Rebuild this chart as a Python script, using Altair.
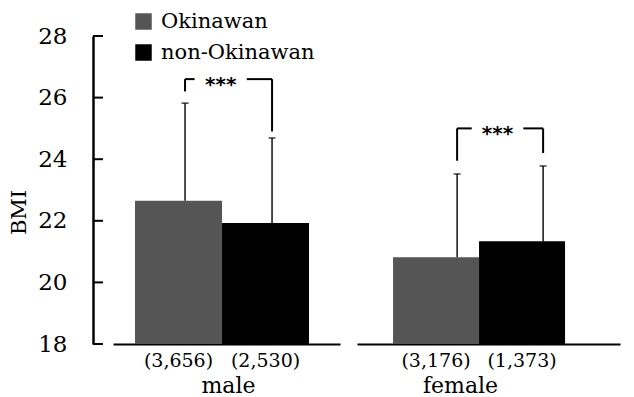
import altair as alt
import pandas as pd

# ---- data ----
groups = ["male", "female"]
series = ["Okinawan", "non-Okinawan"]
n_by_group = [[3656, 2530], [3176, 1373]]
mean_by_group = [[22.65, 21.93], [20.82, 21.34]]
upper_by_group = [[25.82, 24.69], [23.52, 23.78]]   # mean + SD (upper whisker)
sig_labels = ["***", "***"]
bracket_level = [26.6, 25.0]
bracket_left_end = [26.2, 23.95]
bracket_right_end = [24.9, 24.2]
y_ticks = [18, 20, 22, 24, 26, 28]
colors = ["#555555", "#000000"]

# ---- style ----
SERIF = "DejaVu Serif"
H = 308
widths = [227, 263]
x_domains = [[-0.753, 1.856], [-0.919, 2.139]]
err_shift = [0.075, 0.245]
star_shift = [-0.09, -0.03]
title_x = [115, 103]
STAR_GAP = 0.3

y_scale = alt.Scale(domain=[y_ticks[0], y_ticks[-1]], nice=False, zero=False)


def panel(gi):
    xs = alt.Scale(domain=x_domains[gi], nice=False, zero=False)
    idx = [0, 1]
    df = pd.DataFrame({
        "series": series,
        "x0": [i - 0.5 for i in idx],
        "x1": [i + 0.5 for i in idx],
        "xe": [i + err_shift[gi] for i in idx],
        "xl": idx,
        "mean": mean_by_group[gi],
        "base": [y_ticks[0]] * 2,
        "upper": upper_by_group[gi],
        "label": ["({:,})".format(n) for n in n_by_group[gi]],
    })

    xaxis = alt.Axis(title=groups[gi], labels=False, ticks=False, grid=False,
                     domainColor="black", domainWidth=2,
                     titleFont=SERIF, titleFontSize=22, titleFontWeight="normal",
                     titleColor="black", titleX=title_x[gi], titleY=48,
                     titleAlign="center", titleBaseline="alphabetic")
    if gi == 0:
        yaxis = alt.Axis(title="BMI", values=y_ticks, ticks=False, grid=False,
                         offset=20, domainColor="black", domainWidth=2.5,
                         labelFont=SERIF, labelFontSize=23, labelColor="black",
                         labelPadding=26,
                         titleFont=SERIF, titleFontSize=21, titleFontWeight="normal",
                         titleColor="black", titleX=-74, titleY=176,
                         titleAlign="center", titleBaseline="middle")
        legend = alt.Legend(title=None, orient="none", legendX=20, legendY=-25,
                            symbolType="square", symbolSize=272, symbolStrokeWidth=0,
                            labelFont=SERIF, labelFontSize=21, labelColor="black",
                            labelOffset=7, rowPadding=9, padding=0)
    else:
        yaxis = None
        legend = None

    bars = alt.Chart(df).mark_bar().encode(
        x=alt.X("x0:Q", scale=xs, axis=xaxis),
        x2="x1",
        y=alt.Y("mean:Q", scale=y_scale, axis=yaxis),
        y2="base",
        color=alt.Color("series:N", scale=alt.Scale(domain=series, range=colors),
                        legend=legend),
    )
    whisk = alt.Chart(df).mark_rule(color="black", strokeWidth=1.4).encode(
        x="xe:Q", y="mean:Q", y2="upper")
    caps = alt.Chart(df).mark_tick(color="black", thickness=1.6, size=7,
                                   orient="horizontal").encode(
        x="xe:Q", y="upper:Q")
    counts = alt.Chart(df).mark_text(font=SERIF, fontSize=19, color="black",
                                     baseline="middle").encode(
        x="xl:Q", y=alt.value(H + 17), text="label:N")

    lx = err_shift[gi]
    rx = 1 + err_shift[gi]
    mid = (lx + rx) / 2 + star_shift[gi]
    lev = bracket_level[gi]
    br = pd.DataFrame({
        "bx": [lx, lx, mid + STAR_GAP, rx],
        "bx2": [lx, mid - STAR_GAP, rx, rx],
        "by": [bracket_left_end[gi], lev, lev, bracket_right_end[gi]],
        "by2": [lev, lev, lev, lev],
    })
    brackets = alt.Chart(br).mark_rule(color="black", strokeWidth=2).encode(
        x="bx:Q", x2="bx2", y="by:Q", y2="by2")
    stars = alt.Chart(pd.DataFrame({"sx": [mid], "sy": [lev], "t": [sig_labels[gi]]})
                      ).mark_text(font="DejaVu Sans", fontSize=20, fontWeight="bold",
                                  color="black", baseline="alphabetic", dy=11.5).encode(
        x="sx:Q", y="sy:Q", text="t:N")

    layers = [bars, whisk, caps, brackets, stars, counts]
    if gi == 0:
        ticks = alt.Chart(pd.DataFrame({"v": y_ticks})).mark_rule(
            color="black", strokeWidth=2).encode(
            y="v:Q", x=alt.value(-20), x2=alt.value(-10))
        layers.append(ticks)
    return alt.layer(*layers).properties(width=widths[gi], height=H)


chart = alt.hconcat(panel(0), panel(1), spacing=17).resolve_scale(
    color="independent", y="independent", x="independent"
).properties(
    padding={"left": 0, "top": 3, "right": 5, "bottom": 0}
).configure(
    font=SERIF, background="white",
).configure_view(
    stroke=None
).configure_legend(
    labelFont=SERIF, labelFontSize=21
)

chart.save("out.html", embed_options={"renderer": "svg", "actions": False})
